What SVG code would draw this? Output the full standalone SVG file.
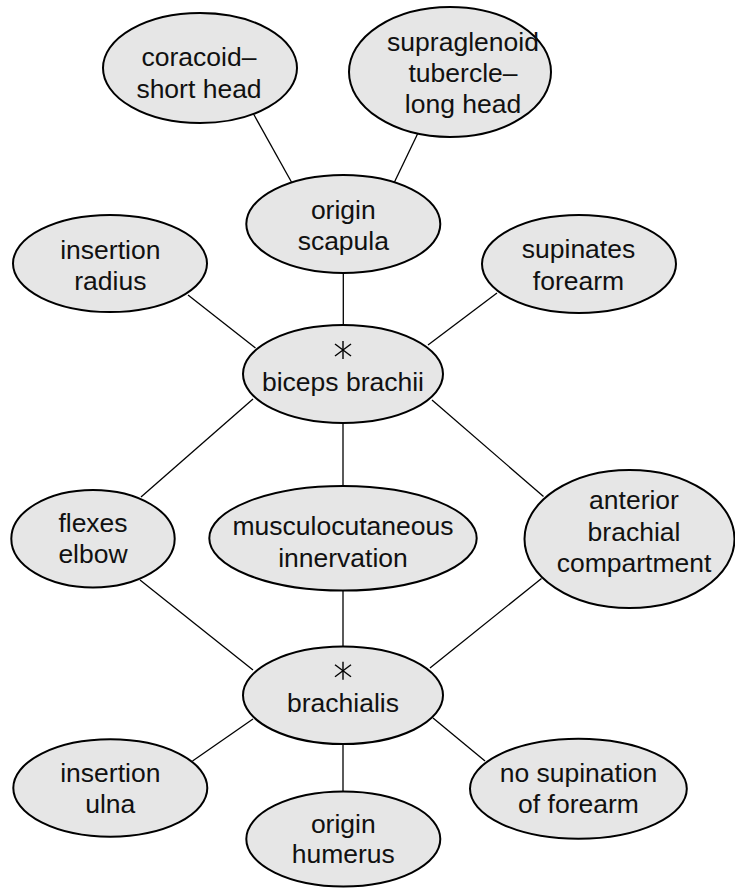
<svg xmlns="http://www.w3.org/2000/svg" width="735" height="888" viewBox="0 0 735 888">
<style>
.node ellipse{fill:#e6e6e6;stroke:#000;stroke-width:2}
.node text{font-family:"Liberation Sans",Arial,Helvetica,sans-serif;font-size:26.5px;fill:#111;text-anchor:middle}
#connectors line{stroke:#000;stroke-width:1.3}
.ast line{stroke:#000;stroke-width:1.4}
</style>
<defs>
<g id="asterisk" class="ast">
<line x1="0" y1="-9" x2="0" y2="9"/>
<line x1="-8" y1="-6" x2="8" y2="6"/>
<line x1="-8" y1="6" x2="8" y2="-6"/>
</g>
</defs>
<rect width="735" height="888" fill="#fff"/>
<g id="connectors">
<line x1="253" y1="113" x2="292" y2="183"/>
<line x1="418" y1="133" x2="394" y2="183"/>
<line x1="343.3" y1="272" x2="343.3" y2="325"/>
<line x1="188" y1="295" x2="255.5" y2="348"/>
<line x1="497" y1="293" x2="428" y2="345"/>
<line x1="253" y1="399" x2="141" y2="497"/>
<line x1="343" y1="423" x2="343" y2="486"/>
<line x1="432" y1="400" x2="543.5" y2="496.5"/>
<line x1="140" y1="580" x2="253" y2="670"/>
<line x1="343" y1="590" x2="343" y2="647"/>
<line x1="541.5" y1="578.5" x2="430" y2="668"/>
<line x1="253" y1="719" x2="192.5" y2="761"/>
<line x1="343" y1="744" x2="343" y2="792"/>
<line x1="433" y1="718" x2="485" y2="761"/>
</g>
<g id="coracoid" class="node">
<ellipse cx="200" cy="68" rx="97" ry="55"/>
<text x="199" y="66">coracoid–</text>
<text x="199" y="98">short head</text>
</g>
<g id="supraglenoid" class="node">
<ellipse cx="450" cy="72" rx="101" ry="65"/>
<text x="463" y="51">supraglenoid</text>
<text x="463" y="82">tubercle–</text>
<text x="463" y="113">long head</text>
</g>
<g id="origin-scapula" class="node">
<ellipse cx="343.3" cy="224" rx="97" ry="49"/>
<text x="343.3" y="219">origin</text>
<text x="343.3" y="250">scapula</text>
</g>
<g id="insertion-radius" class="node">
<ellipse cx="110" cy="263.5" rx="97" ry="48.5"/>
<text x="110.3" y="259">insertion</text>
<text x="110.3" y="290">radius</text>
</g>
<g id="supinates-forearm" class="node">
<ellipse cx="579" cy="264" rx="97" ry="49"/>
<text x="578.5" y="258">supinates</text>
<text x="578.5" y="290">forearm</text>
</g>
<g id="biceps-brachii" class="node">
<ellipse cx="343" cy="374" rx="100" ry="49"/>
<use href="#asterisk" x="343" y="350"/>
<text x="343" y="391">biceps brachii</text>
</g>
<g id="flexes-elbow" class="node">
<ellipse cx="93" cy="538.7" rx="81.7" ry="48.7"/>
<text x="93" y="531.7">flexes</text>
<text x="93" y="563.3">elbow</text>
</g>
<g id="musculocutaneous" class="node">
<ellipse cx="343" cy="538.3" rx="133.7" ry="52.3"/>
<text x="343" y="535">musculocutaneous</text>
<text x="343" y="567.3">innervation</text>
</g>
<g id="anterior-brachial" class="node">
<ellipse cx="629.5" cy="539" rx="105" ry="69"/>
<text x="634" y="509">anterior</text>
<text x="634" y="540.7">brachial</text>
<text x="634" y="571.7">compartment</text>
</g>
<g id="brachialis" class="node">
<ellipse cx="343" cy="695.3" rx="100" ry="48.7"/>
<use href="#asterisk" x="343" y="670.7"/>
<text x="343" y="711.7">brachialis</text>
</g>
<g id="insertion-ulna" class="node">
<ellipse cx="110.3" cy="788" rx="97" ry="48.7"/>
<text x="110.3" y="781.7">insertion</text>
<text x="110.3" y="813.3">ulna</text>
</g>
<g id="no-supination" class="node">
<ellipse cx="578.4" cy="788.7" rx="108.4" ry="50"/>
<text x="578.5" y="781.7">no supination</text>
<text x="578.5" y="813.3">of forearm</text>
</g>
<g id="origin-humerus" class="node">
<ellipse cx="343.3" cy="839" rx="97" ry="47.5"/>
<text x="343.3" y="832.7">origin</text>
<text x="343.3" y="863.3">humerus</text>
</g>
</svg>
